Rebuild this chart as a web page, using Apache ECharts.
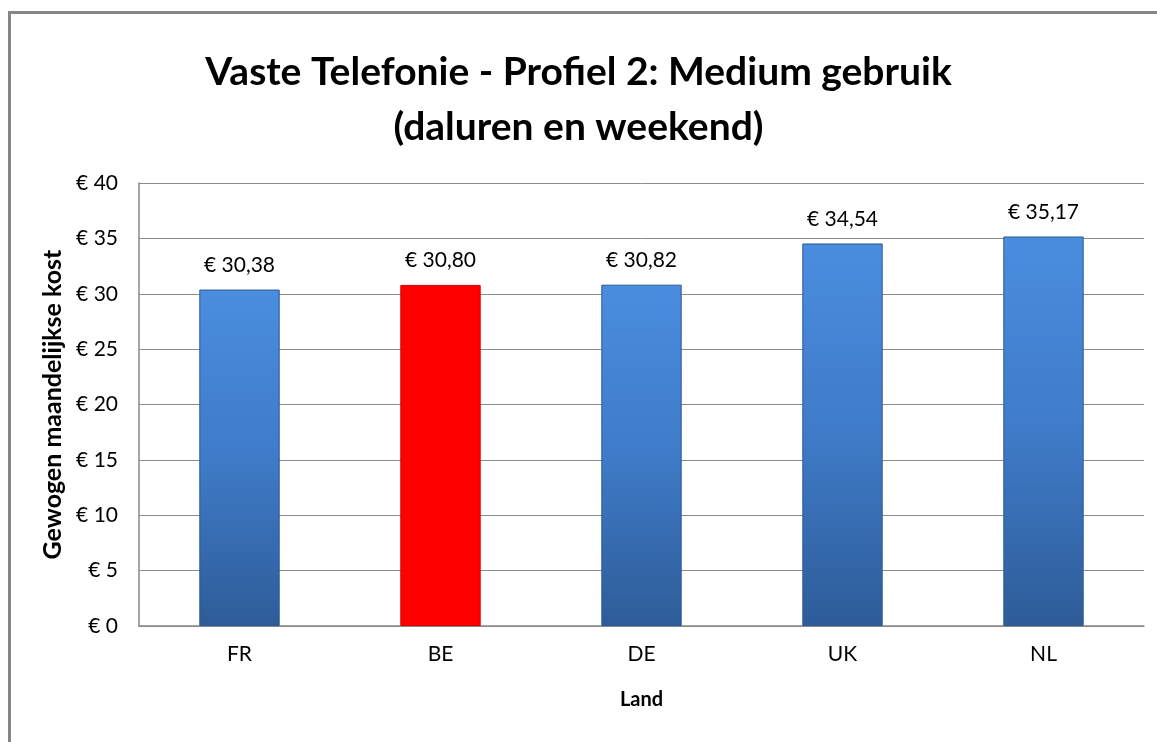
<!DOCTYPE html>
<html>
<head>
<meta charset="utf-8">
<script src="https://cdn.jsdelivr.net/npm/echarts@6/dist/echarts.min.js"></script>
<style>
html, body { margin: 0; padding: 0; background: #fff; }
#chart { width: 1157px; height: 742px; }
</style>
</head>
<body>
<div id="chart"></div>
<script>
// landen en gewogen maandelijkse kost
var landen = ['FR', 'BE', 'DE', 'UK', 'NL'];
var kosten = [30.38, 30.80, 30.82, 34.54, 35.17];
var markeerLand = 'BE';

var FONT = 'Lato, "Open Sans", sans-serif';

function euro(v, dec) {
    return '€ ' + (dec ? v.toFixed(2).replace('.', ',') : v);
}

var blauw = {
    type: 'linear', x: 0, y: 0, x2: 0, y2: 1,
    colorStops: [
        { offset: 0, color: '#4a8ddf' },
        { offset: 0.5, color: '#3f7bc8' },
        { offset: 1, color: '#2e5c98' }
    ]
};

var data = [];
for (var i = 0; i < landen.length; i++) {
    var rood = landen[i] == markeerLand;
    data.push({
        value: kosten[i],
        itemStyle: {
            color: rood ? '#ff0000' : blauw,
            borderColor: rood ? '#d40000' : '#2b5a94',
            borderWidth: 1
        }
    });
}

var myChart = echarts.init(document.getElementById('chart'));
var option = {
    backgroundColor: '#fff',
    animation: false,
    title: {
        text: 'Vaste Telefonie - Profiel 2: Medium gebruik\n(daluren en weekend)',
        left: 'center',
        top: 40,
        textStyle: {
            fontFamily: FONT,
            fontSize: 39,
            fontWeight: 'bold',
            color: '#000',
            lineHeight: 55
        }
    },
    graphic: [{
        type: 'rect',
        shape: { x: 9.5, y: 12.5, width: 1200, height: 800 },
        style: { fill: null, stroke: '#868686', lineWidth: 3 },
        silent: true
    }],
    grid: { left: 139, right: 13, top: 183, bottom: 116 },
    xAxis: {
        type: 'category',
        data: landen,
        name: 'Land',
        nameLocation: 'middle',
        nameGap: 64,
        nameTextStyle: { fontFamily: FONT, fontSize: 20, fontWeight: 'bold', color: '#000' },
        axisLine: { lineStyle: { color: '#888', width: 1.5 } },
        axisTick: { show: false },
        axisLabel: { fontFamily: FONT, fontSize: 21, color: '#000', margin: 18 }
    },
    yAxis: {
        type: 'value',
        min: 0,
        max: 40,
        interval: 5,
        name: 'Gewogen maandelijkse kost',
        nameLocation: 'middle',
        nameGap: 69,
        nameTextStyle: { fontFamily: FONT, fontSize: 25, fontWeight: 'bold', color: '#000' },
        axisLine: { show: true, lineStyle: { color: '#888', width: 1.5 } },
        axisTick: { show: false },
        splitLine: { lineStyle: { color: '#8c8c8c', width: 1 } },
        axisLabel: {
            fontFamily: FONT, fontSize: 21, color: '#000', margin: 21,
            formatter: function (v) { return euro(v, false); }
        }
    },
    series: [{
        type: 'bar',
        data: data,
        barWidth: '40%',
        label: {
            show: true,
            position: 'top',
            distance: 14,
            fontFamily: FONT,
            fontSize: 21,
            color: '#000',
            formatter: function (p) { return euro(p.value, true); }
        }
    }]
};
myChart.setOption(option);
</script>
</body>
</html>
